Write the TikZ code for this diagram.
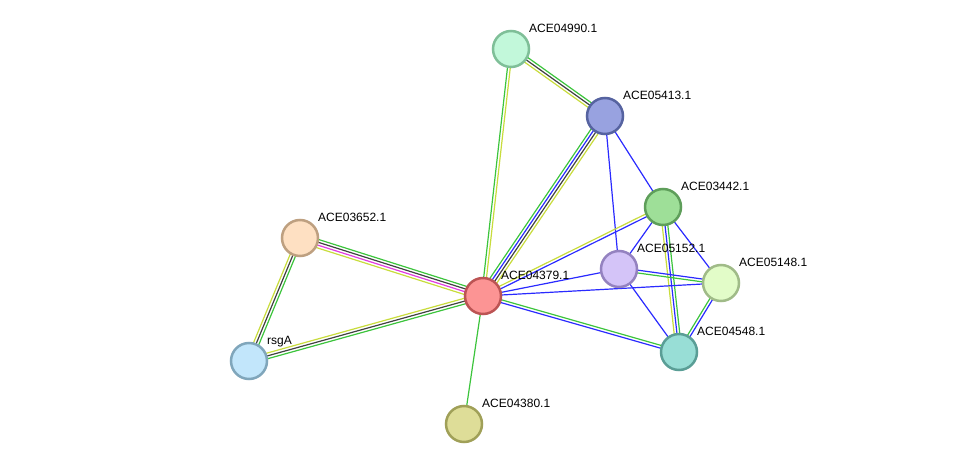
\documentclass[tikz,border=0pt]{standalone}
\usepackage{fontspec}
\setmainfont{Liberation Sans}
\usetikzlibrary{calc,backgrounds}
\definecolor{sgreen}{HTML}{3CC43C}
\definecolor{sblue}{HTML}{2A2AFF}
\definecolor{sdark}{HTML}{404040}
\definecolor{syellow}{HTML}{C8DC3C}
\definecolor{smag}{HTML}{E03CE0}
\tikzset{
  prot/.style={circle, minimum size=36pt, inner sep=0pt, line width=2.5pt},
  lbl/.style={anchor=base west, font=\fontsize{12pt}{14pt}\selectfont, text=black, inner sep=0pt},
  edge/.style={line width=1.2pt},
}
\newcommand{\stredge}[3]{%
  \foreach \o/\c in {#3}{%
    \draw[edge,\c] ($(#1.center)!\o pt!90:(#2.center)$) -- ($(#2.center)!\o pt!-90:(#1.center)$);
  }%
}
\newcommand{\prot}[5]{% name, x, y, fill, stroke
  \definecolor{fill#1}{HTML}{#4}%
  \definecolor{draw#1}{HTML}{#5}%
  \node[prot, fill=fill#1, draw=draw#1] (#1) at (#2,#3) {};
}
\begin{document}
\begin{tikzpicture}[x=1pt,y=-1pt]
\useasboundingbox (0,0) rectangle (975,470);
\prot{n04990}{511}{49}{C2F8DA}{7FBF98}
\prot{n05413}{605}{116}{98A2E0}{5663A0}
\prot{n03442}{663}{207}{9EDF98}{5E9E5A}
\prot{n05152}{619}{269}{D4C4F8}{9482C0}
\prot{n05148}{721}{283}{E2FCC8}{A0BB88}
\prot{n04548}{679}{352}{98DED6}{5A9E96}
\prot{n04379}{483}{296}{FC9494}{BC5454}
\prot{n03652}{300}{238}{FEE0C2}{BEA080}
\prot{rsgA}{249}{361}{C2E6FB}{80A6BB}
\prot{n04380}{464}{424}{DEDD98}{A0A058}
\node[lbl] (l04990) at ($(n04990)+(18,-16.5)$) {ACE04990.1};
\node[lbl] (l05413) at ($(n05413)+(18,-16.5)$) {ACE05413.1};
\node[lbl] (l03442) at ($(n03442)+(18,-16.5)$) {ACE03442.1};
\node[lbl] (l05152) at ($(n05152)+(18,-16.5)$) {ACE05152.1};
\node[lbl] (l05148) at ($(n05148)+(18,-16.5)$) {ACE05148.1};
\node[lbl] (l04548) at ($(n04548)+(18,-16.5)$) {ACE04548.1};
\node[lbl] (l04379) at ($(n04379)+(18,-16.5)$) {ACE04379.1};
\node[lbl] (l03652) at ($(n03652)+(18,-16.5)$) {ACE03652.1};
\node[lbl] (lrsgA) at ($(rsgA)+(18,-16.5)$) {rsgA};
\node[lbl] (l04380) at ($(n04380)+(18,-16.5)$) {ACE04380.1};
\begin{scope}[on background layer]
\stredge{n04990}{n05413}{2.8/sgreen,0/sdark,-2.8/syellow}
\stredge{n04990}{n04379}{-1.4/sgreen,1.4/syellow}
\stredge{n05413}{n04379}{-4.2/sgreen,-1.4/sblue,1.4/sdark,4.2/syellow}
\stredge{n05413}{n03442}{0/sblue}
\stredge{n05413}{n05152}{0/sblue}
\stredge{n03442}{n04379}{-1.4/syellow,1.4/sblue}
\stredge{n03442}{n05152}{0/sblue}
\stredge{n03442}{n05148}{0/sblue}
\stredge{n03442}{n04548}{-2.8/syellow,0/sblue,2.8/sgreen}
\stredge{n05152}{n05148}{1.4/sblue,-1.4/sgreen}
\stredge{n05152}{n04548}{0/sblue}
\stredge{n04379}{n05148}{0/sblue}
\stredge{n05148}{n04548}{-1.4/sgreen,1.4/sblue}
\stredge{n04379}{n05152}{0/sblue}
\stredge{n04379}{n04548}{1.4/sgreen,-1.4/sblue}
\stredge{n04379}{n03652}{-4.2/sgreen,-1.4/sdark,1.4/smag,4.2/syellow}
\stredge{n04379}{rsgA}{-2.8/syellow,0/sdark,2.8/sgreen}
\stredge{n03652}{rsgA}{-2.8/syellow,0/sdark,2.8/sgreen}
\stredge{n04379}{n04380}{0/sgreen}
\end{scope}
\end{tikzpicture}
\end{document}
